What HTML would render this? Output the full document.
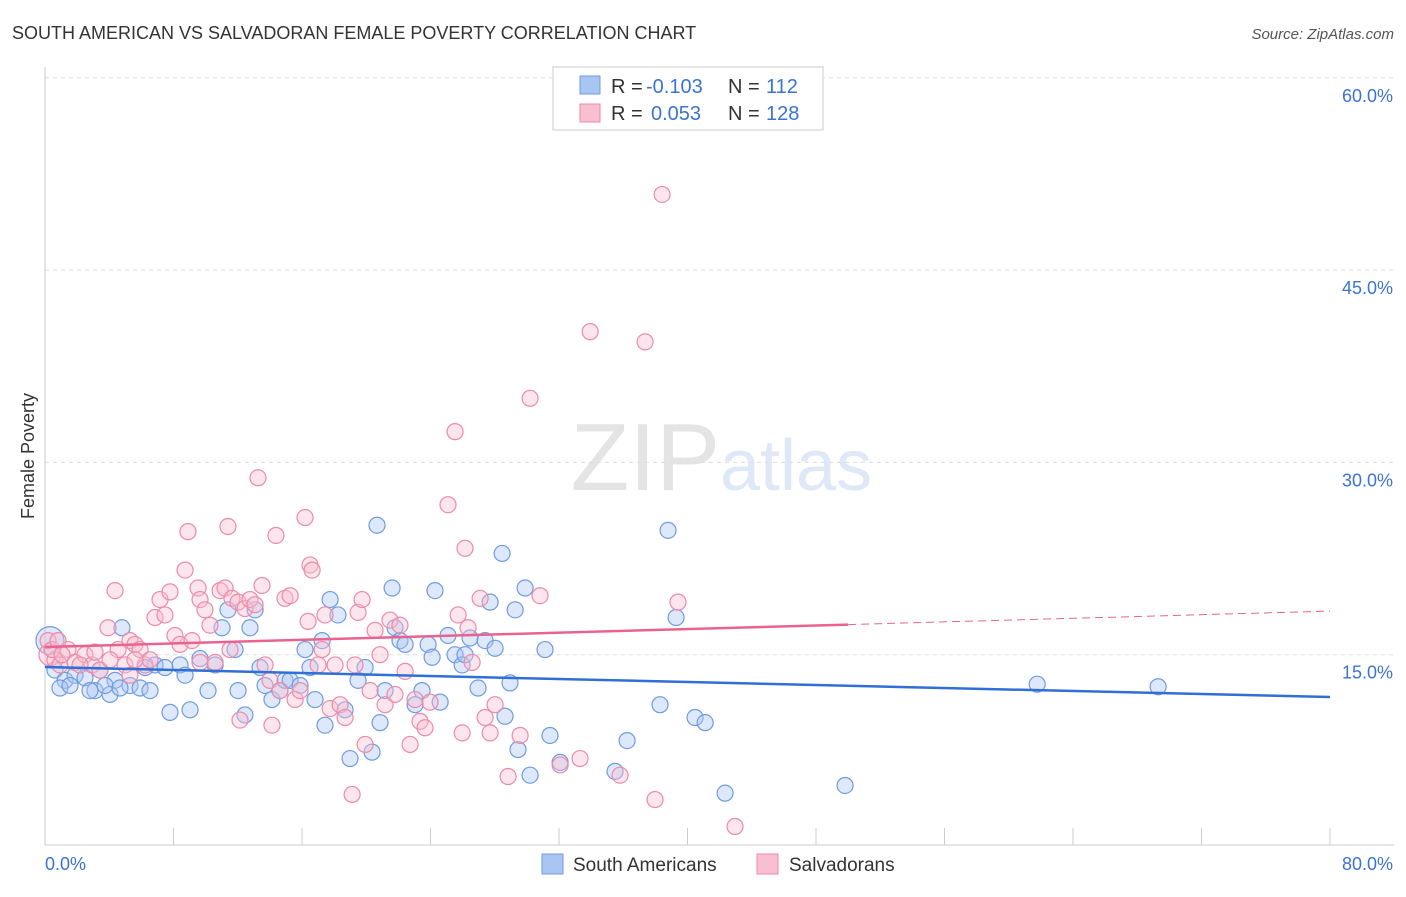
<!DOCTYPE html>
<html><head><meta charset="utf-8"><style>
body{margin:0;background:#fff;font-family:"Liberation Sans",sans-serif;}
svg text{font-family:"Liberation Sans",sans-serif;}
</style></head><body>
<svg id="chart" width="1406" height="892" xmlns="http://www.w3.org/2000/svg">
<text x="12" y="39" font-size="18" fill="#333">SOUTH AMERICAN VS SALVADORAN FEMALE POVERTY CORRELATION CHART</text>
<text x="1394" y="39" font-size="15" fill="#555" text-anchor="end" font-style="italic">Source: ZipAtlas.com</text>
<text transform="translate(34,456) rotate(-90)" font-size="18" fill="#333" text-anchor="middle">Female Poverty</text>
<text x="720" y="490" font-size="96" fill="#e4e4e4" text-anchor="end" font-family="Liberation Serif">ZIP</text>
<text x="720" y="490" font-size="72" fill="#dfe8f7">atlas</text>
<g id="grid"></g><g id="axes"></g><g id="pts"></g><g id="lines"></g>
<g>
<rect x="553" y="67" width="270" height="63" fill="#fff" stroke="#ccc"/>
<rect x="580" y="76" width="20" height="18" fill="#a9c6f3" stroke="#6f9be0"/>
<rect x="580" y="104" width="20" height="18" fill="#f8bfd0" stroke="#ec8aaa"/>
<text x="611" y="93" font-size="20" fill="#333">R =</text>
<text x="646" y="93" font-size="20" fill="#3b73d4">-0.103</text>
<text x="728" y="93" font-size="20" fill="#333">N =</text>
<text x="766" y="93" font-size="20" fill="#3b73d4">112</text>
<text x="611" y="120" font-size="20" fill="#333">R =</text>
<text x="651" y="120" font-size="20" fill="#3b73d4">0.053</text>
<text x="728" y="120" font-size="20" fill="#333">N =</text>
<text x="766" y="120" font-size="20" fill="#3b73d4">128</text>
</g>
<g>
<rect x="542" y="854" width="21" height="20" fill="#a9c6f3" stroke="#6f9be0"/>
<text x="573" y="871" font-size="19" fill="#333">South Americans</text>
<rect x="757" y="854" width="21" height="20" fill="#f8bfd0" stroke="#ec8aaa"/>
<text x="789" y="871" font-size="19" fill="#333">Salvadorans</text>
</g>
</svg>
<script>
const yTicks=[15,30,45,60];
const xTickLabels=["0.0%","80.0%"];
const blueX=[.31,.62,1.25,1.87,2.49,3.11,3.42,4.05,4.36,4.79,5.29,5.92,6.54,6.85,7.47,7.78,8.41,8.72,9.03,9.65,10.15,10.59,11.02,11.39,11.83,12.02,12.45,12.76,13.08,13.39,13.70,14.13,14.63,14.94,15.26,15.88,16.19,16.50,16.81,17.25,17.43,17.75,18.24,18.68,18.99,19.49,19.93,20.36,20.67,20.86,21.17,21.61,21.79,22.10,22.42,23.04,23.47,23.85,24.10,24.28,24.60,25.09,25.53,25.97,26.15,26.46,26.96,27.40,27.71,28.02,28.46,28.64,28.95,29.27,29.45,29.89,30.20,31.13,31.44,32.07,35.49,36.24,38.29,38.79,39.29,40.47,41.10,42.34,49.81,61.77,69.30,.93,1.56,2.80,3.74,6.23,4.67];
const blueY=[16.1,13.8,13.0,13.4,13.2,12.2,13.8,11.9,13.0,17.1,12.6,12.4,12.2,14.2,14.0,10.5,14.2,13.4,10.7,14.7,12.2,14.2,17.1,18.5,15.4,12.2,10.3,17.1,18.5,14.0,12.6,11.5,12.2,13.0,13.0,12.6,15.4,14.0,11.5,16.1,9.5,19.3,18.1,10.7,6.9,13.0,14.0,7.4,25.1,9.7,12.2,20.2,17.1,16.1,15.8,11.1,12.2,15.8,14.8,20.0,11.3,16.5,15.0,14.2,15.0,16.3,12.4,16.1,19.1,15.5,22.9,10.2,12.8,18.5,7.6,20.2,5.6,15.4,8.7,6.6,5.9,8.3,11.1,24.7,17.9,10.1,9.7,4.2,4.8,12.7,12.5,12.4,12.6,12.2,12.6,14.0,12.4];
const pinkX=[.31,.62,.93,1.43,1.87,2.49,2.93,3.42,3.92,4.36,4.55,4.98,5.29,5.60,5.92,6.23,6.54,6.85,7.16,7.47,7.78,8.09,8.41,8.72,8.90,9.15,9.53,9.65,9.96,10.27,10.59,10.90,11.21,11.39,11.64,12.02,12.14,12.45,12.76,13.08,13.26,13.51,13.70,14.01,14.13,14.38,14.63,14.94,15.26,15.57,15.88,16.19,16.38,16.50,16.63,17.0,17.25,17.43,17.75,18.06,18.37,18.68,19.12,19.30,19.49,19.74,19.93,20.24,20.55,20.86,21.17,21.48,21.79,22.10,22.42,22.73,23.04,23.35,23.66,23.97,25.09,25.53,25.72,25.97,26.15,26.34,26.59,27.09,27.40,27.71,28.02,28.83,29.58,30.20,30.82,32.07,33.31,33.94,35.80,37.36,37.98,38.42,39.41,42.96,.19,.44,.81,1.06,2.18,3.11,4.05,5.60,9.65,11.52,5.29];
const pinkY=[15.0,14.6,14.2,15.4,14.4,15.0,14.2,13.8,17.1,20.0,15.4,14.2,16.1,15.8,15.4,14.2,14.6,17.9,19.3,18.1,19.9,16.5,15.8,21.6,24.6,16.1,20.2,19.3,18.5,17.3,14.4,20.0,20.2,25.0,19.4,19.1,9.9,18.6,19.3,18.9,28.8,20.4,14.2,13.0,9.5,24.3,12.2,19.4,19.6,11.5,12.2,25.7,17.6,22.0,21.6,14.2,15.4,18.1,10.8,14.2,11.1,10.1,4.1,14.2,18.3,19.3,8.0,12.2,16.9,15.0,11.1,17.7,11.9,17.3,13.7,8.0,11.5,9.8,9.3,11.3,26.7,32.4,18.1,8.9,23.3,17.1,14.4,19.4,10.1,8.9,11.1,5.5,8.7,35.0,19.6,6.4,6.9,40.2,5.6,39.4,3.7,50.9,19.1,1.6,16.1,15.4,16.1,15.0,14.2,15.2,14.6,14.6,14.4,15.4,13.4];
const blueTrend=[14.04,11.70];
const pinkTrend=[15.6,18.4];
const NS="http://www.w3.org/2000/svg";
const X0=45,X1=1330,Y0=847,YPX=12.82;
const sx=v=>X0+(v/80)*(X1-X0);
const sy=v=>Y0-v*YPX;
function mk(tag,attrs,parent){const e=document.createElementNS(NS,tag);for(const k in attrs)e.setAttribute(k,attrs[k]);parent.appendChild(e);return e;}
const grid=document.getElementById('grid'),axes=document.getElementById('axes');
yTicks.forEach(t=>{
 const l=mk('line',{x1:X0,x2:1394,y1:sy(t),y2:sy(t),stroke:'#ddd','stroke-dasharray':'4,4'},grid);
 
 
 const tx=mk('text',{x:1393,y:sy(t)+24,'font-size':18,fill:'#3b73d4','text-anchor':'end'},axes);
 tx.textContent=t.toFixed(1)+'%';
 
 
});
const base=mk('line',{x1:X0,x2:1394,y1:845,y2:845,stroke:'#ccc'},axes);


const yl=mk('line',{x1:X0,x2:X0,y1:67,y2:845,stroke:'#ccc'},axes);


for(let i=0;i<=10;i++){
 const tk=mk('line',{x1:sx(i*8),x2:sx(i*8),y1:828,y2:845,stroke:'#ccc'},axes);
 
 
}
[[0,'start',45],[1,'end',1393]].forEach(([i,a,x])=>{
 const t=mk('text',{x:x,y:870,'font-size':18,fill:'#3b73d4','text-anchor':a},axes);
 t.textContent=xTickLabels[i];
 
 
});
const pts=document.getElementById('pts');
function plot(xs,ys,fill,stroke,name){
 xs.forEach((x,i)=>{
  const r=(i===0)?(name==='south-american-point'?14:11):8;
  const c=mk('circle',{cx:sx(x),cy:sy(ys[i]),r:r,fill:fill,'fill-opacity':0.4,stroke:stroke,'stroke-width':1.2},pts);
  
  
 });
}
plot(blueX,blueY,'#a9c6f3','#6f9be0','south-american-point');
plot(pinkX,pinkY,'#f8bfd0','#ec8aaa','salvadoran-point');
const lines=document.getElementById('lines');
const bl=mk('line',{x1:sx(0),y1:sy(blueTrend[0]),x2:sx(80),y2:sy(blueTrend[1]),stroke:'#2f6fd6','stroke-width':2.5},lines);


const pm=pinkTrend[0]+(pinkTrend[1]-pinkTrend[0])*50/80;
const pl=mk('line',{x1:sx(0),y1:sy(pinkTrend[0]),x2:sx(50),y2:sy(pm),stroke:'#e8648e','stroke-width':2.5},lines);


const pd=mk('line',{x1:sx(50),y1:sy(pm),x2:sx(80),y2:sy(pinkTrend[1]),stroke:'#e8648e','stroke-width':1,'stroke-dasharray':'8,5'},lines);


</script>
</body></html>
